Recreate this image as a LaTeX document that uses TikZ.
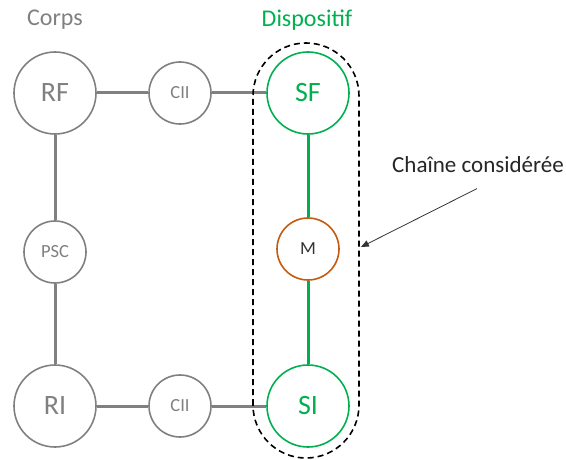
\documentclass[tikz,border=0pt]{standalone}
\usepackage{fontspec}
\setmainfont{Carlito}
\usetikzlibrary{shapes.geometric, arrows}
\definecolor{grisc}{RGB}{128,128,128}
\definecolor{vertd}{RGB}{0,176,80}
\definecolor{orangem}{RGB}{197,90,17}
\tikzstyle{grand} = [circle, minimum size=82pt, inner sep=0pt, line width=1.6pt, draw=grisc, text=grisc, font=\fontsize{28}{30}\selectfont]
\tikzstyle{petit} = [circle, minimum size=62pt, inner sep=0pt, line width=1.6pt, draw=grisc, text=grisc, font=\fontsize{18.5}{20}\selectfont]
\tikzstyle{dispo} = [grand, draw=vertd, text=vertd]
\tikzstyle{moteur} = [petit, draw=orangem, text=black!80]
\tikzstyle{lien} = [line width=3pt, draw=grisc]
\tikzstyle{titre} = [font=\fontsize{24}{26}\selectfont]

\begin{document}
\begin{tikzpicture}[x=1pt, y=1pt]
				\useasboundingbox (0,0) rectangle (566,459);
				\node (corps) [titre, text=grisc] at (55,439) {Corps};
				\node (dispositif) [titre, text=vertd] at (307,439) {Dispositif};
				
				\node (rf) [grand] at (55,366) {RF};
				\node (cii1) [petit] at (180,366) {CII};
				\node (sf) [dispo] at (308,366) {SF};
				\node (psc) [petit] at (55,207) {PSC};
				\node (m) [moteur] at (308,210) {M};
				\node (ri) [grand] at (55,53) {RI};
				\node (cii2) [petit] at (180,53) {CII};
				\node (si) [dispo] at (308,53) {SI};
				
				\draw [lien] (rf) -- (cii1);
				\draw [lien] (cii1) -- (sf);
				\draw [lien] (rf) -- (psc);
				\draw [lien] (psc) -- (ri);
				\draw [lien] (ri) -- (cii2);
				\draw [lien] (cii2) -- (si);
				\draw [lien, draw=vertd] (sf) -- (m);
				\draw [lien, draw=vertd] (m) -- (si);
				
				\draw [line width=1.6pt, dash pattern=on 6pt off 4pt, rounded corners=53pt] (253,1) rectangle (359,416);
				
				\node (chaine) [font=\fontsize{23}{25}\selectfont, text=black!85] at (478,294) {Chaîne considérée};
				\coordinate (bord) at (361,212);
				\draw [-triangle 45, line width=0.8pt, black!80] ([xshift=-1pt, yshift=-12pt]chaine.south) -- (bord);
\end{tikzpicture}
\end{document}
